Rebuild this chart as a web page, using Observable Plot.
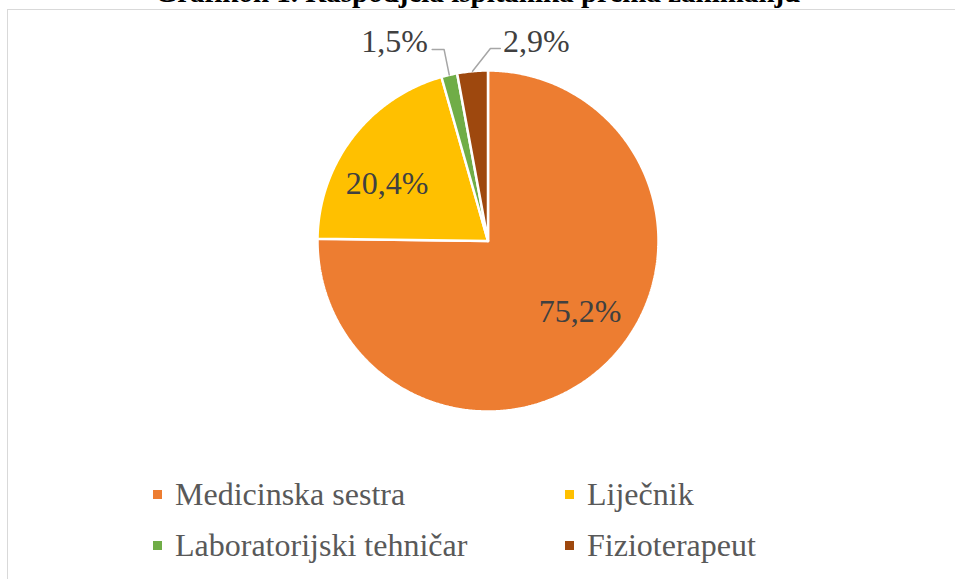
<!DOCTYPE html>
<html><head><meta charset="utf-8">
<script src="https://cdn.jsdelivr.net/npm/d3@7"></script>
<script src="https://cdn.jsdelivr.net/npm/@observablehq/plot@0.6"></script>
<style>
html,body{margin:0;padding:0;background:#fff;overflow:hidden;width:955px;height:579px;}
#wrap{position:relative;width:955px;height:579px;overflow:hidden;background:#fff;}
#frame{position:absolute;left:7px;top:9px;width:1000px;height:700px;border-left:1.5px solid #d9d9d9;border-top:1.5px solid #d9d9d9;box-sizing:border-box;}
#title{position:absolute;left:0;width:955px;top:-22px;text-align:center;font-family:"Liberation Serif","Times New Roman",serif;font-weight:bold;font-size:29px;line-height:29px;color:#000;white-space:nowrap;}
#chart{position:absolute;left:0;top:0;}
.leg{position:absolute;display:flex;align-items:center;height:34px;font-family:"Liberation Serif","Times New Roman",serif;font-size:32px;color:#595959;white-space:nowrap;}
.sw{width:9px;height:9px;margin-right:13px;}
</style>
</head><body>
<div id="wrap">
  <div id="frame"></div>
  <div id="title"></div>
  <div id="chart"></div>
</div>
<script>
const title = "Grafikon 1. Raspodjela ispitanika prema zanimanju";
const categories = ["Medicinska sestra", "Liječnik", "Laboratorijski tehničar", "Fizioterapeut"];
const values = [75.2, 20.4, 1.5, 2.9];
const labels = ["75,2%", "20,4%", "1,5%", "2,9%"];
const colors = ["#ED7D31", "#FFC000", "#70AD47", "#9E480E"];

document.getElementById("title").textContent = title;

// angles (clockwise from 12 o'clock), derived from values
const total = d3.sum(values);
let acc = 0;
const slices = categories.map((name, i) => {
  const a0 = acc / total * 2 * Math.PI;
  acc += values[i];
  const a1 = acc / total * 2 * Math.PI;
  return {name, i, a0, a1, mid: (a0 + a1) / 2};
});

// polygon points for each slice
const pts = [];
for (const s of slices) {
  pts.push({name: s.name, x: 0, y: 0});
  const n = Math.max(4, Math.ceil((s.a1 - s.a0) / (Math.PI / 360)));
  for (let k = 0; k <= n; k++) {
    const a = s.a0 + (s.a1 - s.a0) * k / n;
    pts.push({name: s.name, x: Math.sin(a), y: Math.cos(a)});
  }
  pts.push({name: s.name, x: 0, y: 0});
}

// label placement (layout)
const inR = 0.68, rot = -8 * Math.PI / 180;
const callout = { // for small slices: label offset and elbow
  2: {dx: -0.32, ly: 1.17, ex: -0.03, ey: 1.123, hx: -0.07},
  3: {dx: 0.375, ly: 1.17, ex: 0.105, ey: 1.129, hx: 0.058}
};
const textData = [], leaders = [];
for (const s of slices) {
  if (callout[s.i]) {
    const c = callout[s.i];
    const ox = Math.sin(s.mid), oy = Math.cos(s.mid);
    textData.push({label: labels[s.i], x: ox + c.dx, y: c.ly});
    leaders.push({id: s.i, x: ox, y: oy});
    leaders.push({id: s.i, x: ox + c.ex, y: c.ey});
    leaders.push({id: s.i, x: ox + c.ex + c.hx, y: c.ey});
  } else {
    const a = s.mid + rot;
    textData.push({label: labels[s.i], x: Math.sin(a) * inR, y: Math.cos(a) * inR});
  }
}

const W = 955, H = 460;
const chart = Plot.plot({
  width: W, height: H,
  marginLeft: 317, marginRight: W - 658, marginTop: 70, marginBottom: H - 411,
  x: {domain: [-1, 1], axis: null},
  y: {domain: [-1, 1], axis: null},
  color: {domain: categories, range: colors},
  style: {background: "transparent", overflow: "visible"},
  marks: [
    Plot.line(pts, {x: "x", y: "y", z: "name", fill: "name", stroke: "white", strokeWidth: 2.5, strokeLinejoin: "miter"}),
    Plot.line(leaders, {x: "x", y: "y", z: "id", stroke: "#a6a6a6", strokeWidth: 1.5}),
    Plot.text(textData, {x: "x", y: "y", text: "label", fontSize: 32, fontFamily: "Liberation Serif, Times New Roman, serif", fill: "#404040"})
  ]
});
document.getElementById("chart").appendChild(chart);

// legend
const wrap = document.getElementById("wrap");
const legPos = [[153, 477], [565, 477], [153, 528], [565, 528]];
categories.forEach((c, i) => {
  const d = document.createElement("div");
  d.className = "leg";
  d.style.left = legPos[i][0] + "px";
  d.style.top = legPos[i][1] + "px";
  const sw = document.createElement("span");
  sw.className = "sw";
  sw.style.background = colors[i];
  const t = document.createElement("span");
  t.textContent = c;
  d.appendChild(sw); d.appendChild(t);
  wrap.appendChild(d);
});
</script>
</body></html>
